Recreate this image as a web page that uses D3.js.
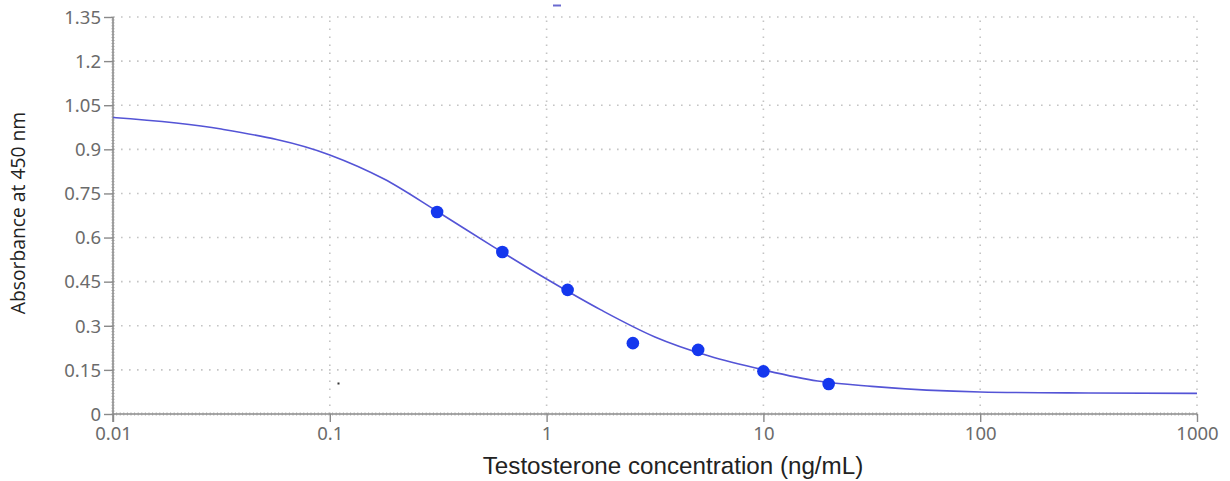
<!DOCTYPE html>
<html>
<head>
<meta charset="utf-8">
<script src="https://cdn.jsdelivr.net/npm/d3@7"></script>
<style>
  html, body { margin: 0; padding: 0; background: #fff; }
  svg { display: block; }
</style>
</head>
<body>
<svg id="chart" width="1230" height="481"></svg>
<script>
// ---- Data ----
const concentrations = [0.3125, 0.625, 1.25, 2.5, 5, 10, 20];
const absorbances    = [0.687, 0.551, 0.422, 0.241, 0.218, 0.145, 0.102];

// fitted curve
const curveX = [0.01, 0.0316, 0.1, 0.178, 0.316, 0.562, 1, 1.78, 3.16, 5.62, 10, 17.8, 31.6, 100, 316, 1000];
const curveY = [1.008, 0.969, 0.881, 0.799, 0.687, 0.571, 0.459, 0.354, 0.262, 0.197, 0.150, 0.112, 0.094, 0.075, 0.0715, 0.070];

const xTickValues = [0.01, 0.1, 1, 10, 100, 1000];
const xTickLabels = ["0.01", "0.1", "1", "10", "100", "1000"];
const yTickValues = [0, 0.15, 0.3, 0.45, 0.6, 0.75, 0.9, 1.05, 1.2, 1.35];
const yTickLabels = ["0", "0.15", "0.3", "0.45", "0.6", "0.75", "0.9", "1.05", "1.2", "1.35"];

const xTitle = "Testosterone concentration (ng/mL)";
const yTitle = "Absorbance at 450 nm";

// ---- Layout ----
const svg = d3.select("#chart");
const pLeft = 113, pRight = 1197, pTop = 17, pBottom = 414;

const x = d3.scaleLog().domain([0.01, 1000]).range([pLeft, pRight]);
const y = d3.scaleLinear().domain([0, 1.35]).range([pBottom, pTop]);

const gridColor = "#c4c4c4";
const axisColor = "#8a8a8a";

// grid
const grid = svg.append("g");
grid.selectAll("line.h").data(yTickValues.filter(v => v > 0)).enter().append("line")
  .attr("x1", pLeft).attr("x2", pRight)
  .attr("y1", d => y(d)).attr("y2", d => y(d))
  .attr("stroke", gridColor).attr("stroke-width", 1.6)
  .attr("stroke-dasharray", "1.6,6.4").attr("stroke-linecap", "butt");
grid.selectAll("line.v").data(xTickValues.filter(v => v > 0.01)).enter().append("line")
  .attr("x1", d => x(d)).attr("x2", d => x(d))
  .attr("y1", pBottom).attr("y2", pTop)
  .attr("stroke", gridColor).attr("stroke-width", 1.6)
  .attr("stroke-dasharray", "1.6,6.4");

// minor ticks on axes
const yMinor = d3.range(0, 136).map(i => i * 0.01);
svg.append("g").selectAll("line").data(yMinor).enter().append("line")
  .attr("x1", pLeft - 2).attr("x2", pLeft + 2)
  .attr("y1", d => y(d)).attr("y2", d => y(d))
  .attr("stroke", "#b0b0b0").attr("stroke-width", 0.6);
const xMinorPx = d3.range(pLeft, pRight, 3.6);
svg.append("g").selectAll("line").data(xMinorPx).enter().append("line")
  .attr("x1", d => d).attr("x2", d => d)
  .attr("y1", pBottom - 2).attr("y2", pBottom + 2)
  .attr("stroke", "#b0b0b0").attr("stroke-width", 0.6);

// axes
const yAxis = d3.axisLeft(y).tickValues(yTickValues)
  .tickFormat((d, i) => yTickLabels[i]).tickSize(9).tickPadding(3);
const gy = svg.append("g").attr("transform", `translate(${pLeft},0)`).call(yAxis);
const xAxis = d3.axisBottom(x).tickValues(xTickValues)
  .tickFormat((d, i) => xTickLabels[i]).tickSize(8).tickPadding(5);
const gx = svg.append("g").attr("transform", `translate(0,${pBottom})`).call(xAxis);

[gx, gy].forEach(g => {
  g.select(".domain").attr("stroke", axisColor).attr("stroke-width", 1.6);
  g.selectAll(".tick line").attr("stroke", axisColor).attr("stroke-width", 1.4);
  g.selectAll(".tick text").attr("fill", "#6b6b6b")
    .style("font-family", "'Noto Sans', 'Open Sans', sans-serif").style("font-size", "18.5px");
});
gy.select(".domain").attr("d", `M0,${pBottom + 8}V${pTop}`);
gx.select(".domain").attr("d", `M${pLeft},0H${pRight}`);
gy.selectAll(".tick text").attr("dy", "0.34em");
gx.selectAll(".tick text").attr("dy", "0.68em");

// curve
const line = d3.line()
  .x((d, i) => x(curveX[i]))
  .y((d, i) => y(curveY[i]))
  .curve(d3.curveMonotoneX);
svg.append("path").datum(curveY)
  .attr("d", line)
  .attr("fill", "none").attr("stroke", "#5454d6").attr("stroke-width", 1.6);

// points
svg.append("g").selectAll("circle").data(concentrations).enter().append("circle")
  .attr("cx", d => x(d))
  .attr("cy", (d, i) => y(absorbances[i]))
  .attr("r", 6.3)
  .attr("fill", "#1437ee");

// titles
svg.append("text")
  .attr("x", 673).attr("y", 474)
  .attr("text-anchor", "middle")
  .style("font-family", "'Liberation Sans', Arial, sans-serif").style("font-size", "24.2px")
  .attr("fill", "#222")
  .text(xTitle);
svg.append("text")
  .attr("transform", "translate(25,213) rotate(-90)")
  .attr("text-anchor", "middle")
  .style("font-family", "'Open Sans', 'Noto Sans', sans-serif").style("font-size", "19.3px")
  .attr("fill", "#222")
  .text(yTitle);

// small artifacts present in the reference
svg.append("line").attr("x1", 553).attr("x2", 561).attr("y1", 5.5).attr("y2", 5.5)
  .attr("stroke", "#6a6ad0").attr("stroke-width", 2);
svg.append("rect").attr("x", 337.5).attr("y", 382.5).attr("width", 2).attr("height", 2).attr("fill", "#333");
</script>
</body>
</html>
